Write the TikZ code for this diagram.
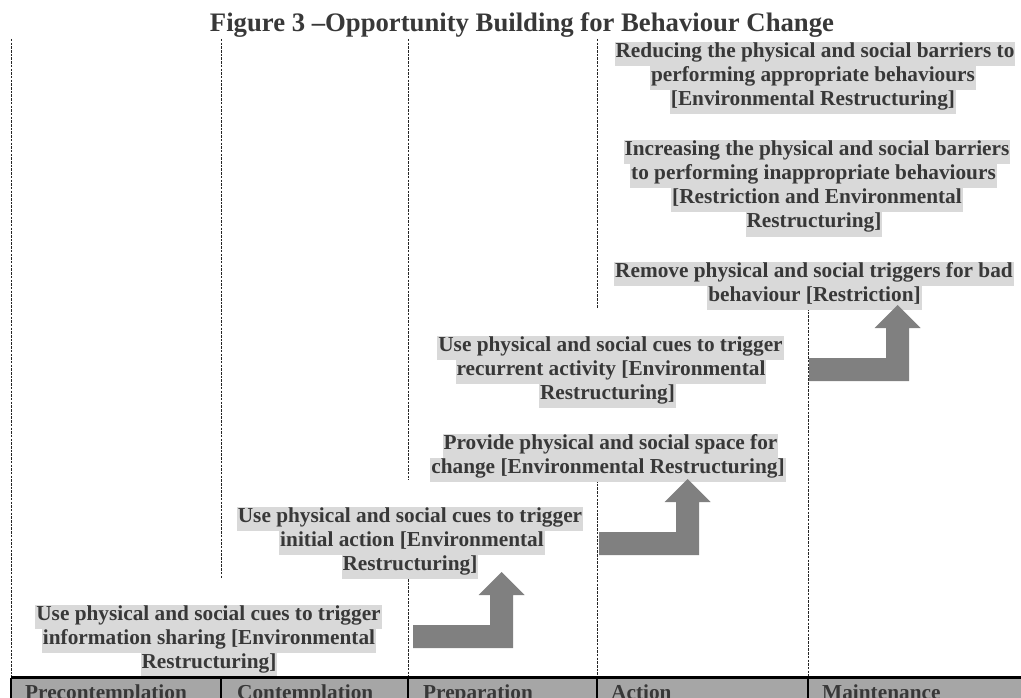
\documentclass[tikz,border=0pt]{standalone}
\usepackage{fontspec}
\setmainfont{Liberation Serif}
\definecolor{hl}{HTML}{D9D9D9}
\definecolor{txt}{HTML}{383838}
\definecolor{arr}{HTML}{808080}
\definecolor{tab}{HTML}{A6A6A6}
\newcommand{\bodyfnt}{\fontsize{21.3}{24}\selectfont\bfseries}
\newcommand{\titlefnt}{\fontsize{26.7}{30}\selectfont\bfseries}
\newcommand{\bentarrow}[2]{%
  \fill[arr] (#1,#2) -- ++(100,0) -- ++(0,-53) -- ++(11.5,0) -- ++(-23,-23)
    -- ++(-23,23) -- ++(11.5,0) -- ++(0,30) -- ++(-77,0) -- cycle;}
\tikzset{
  hlline/.style={fill=hl, text=txt, font=\bodyfnt, anchor=base,
    inner xsep=1pt, inner ysep=0pt, text height=15.5pt, text depth=8.5pt},
  dashline/.style={black!85, line width=0.9pt, dash pattern=on 2.5pt off 1.2pt},
  tabtext/.style={text=txt, font=\bodyfnt, anchor=base west, inner sep=0pt},
  divider/.style={black, line width=1.2pt}
}
\begin{document}
\begin{tikzpicture}[x=1pt,y=-1pt]
\useasboundingbox (0,0) rectangle (1021,698);
\clip (0,0) rectangle (1021,698);
% title
\node[text=txt, font=\titlefnt, anchor=base, inner sep=0pt] (title) at (522,32)
  {Figure 3 –Opportunity Building for Behaviour Change};
% dashed guide lines
\coordinate (v1t) at (11,39);  \coordinate (v1b) at (11,677);
\coordinate (v2t) at (221,39); \coordinate (v2b) at (221,578);
\coordinate (v3t) at (408,39); \coordinate (v3m) at (408,480);
\coordinate (v3n) at (408,579); \coordinate (v3b) at (408,677);
\coordinate (v4t) at (597,39); \coordinate (v4m) at (597,308);
\coordinate (v4n) at (597,480); \coordinate (v4b) at (597,677);
\coordinate (v5t) at (808,308); \coordinate (v5b) at (808,677);
\draw[dashline] (v1t) -- (v1b);
\draw[dashline] (v2t) -- (v2b);
\draw[dashline] (v3t) -- (v3m);
\draw[dashline] (v3n) -- (v3b);
\draw[dashline] (v4t) -- (v4m);
\draw[dashline] (v4n) -- (v4b);
\draw[dashline] (v5t) -- (v5b);
% block A
\node[hlline] (a1) at (815,58) {Reducing the physical and social barriers to};
\node[hlline] (a2) at (813,82) {performing appropriate behaviours};
\node[hlline] (a3) at (813,106) {[Environmental Restructuring]};
% block B
\node[hlline] (b1) at (817,156) {Increasing the physical and social barriers\ };
\node[hlline] (b2) at (813.5,180) {to performing inappropriate behaviours};
\node[hlline] (b3) at (817,204) {[Restriction and Environmental\ };
\node[hlline] (b4) at (814,228) {Restructuring]};
% block C
\node[hlline] (c1) at (814,277) {Remove physical and social triggers for bad};
\node[hlline] (c2) at (814.5,301) {behaviour [Restriction]};
% block D
\node[hlline] (d1) at (610.5,351) {Use physical and social cues to trigger};
\node[hlline] (d2) at (611,375) {recurrent activity [Environmental\ };
\node[hlline] (d3) at (607.5,399) {Restructuring]};
% block E
\node[hlline] (e1) at (610.5,449) {Provide physical and social space for};
\node[hlline] (e2) at (608,473) {change [Environmental Restructuring]};
% block F
\node[hlline] (f1) at (410,522) {Use physical and social cues to trigger};
\node[hlline] (f2) at (412,546) {initial action [Environmental\ };
\node[hlline] (f3) at (410,570) {Restructuring]};
% block G
\node[hlline] (g1) at (208.5,620) {Use physical and social cues to trigger};
\node[hlline] (g2) at (209,644) {information sharing [Environmental\ };
\node[hlline] (g3) at (209,668) {Restructuring]};
% bent arrows
\bentarrow{413}{648}
\bentarrow{599}{555}
\bentarrow{809}{381}
% stage table
\fill[tab] (11,678) rectangle (1021,698);
\draw[black, line width=3pt] (11,677.5) -- (1021,677.5);
\foreach \xx in {11,221,408,597,808} \draw[divider] (\xx,678) -- (\xx,698);
\node[tabtext] (s1) at (25,699) {Precontemplation};
\node[tabtext] (s2) at (237,699) {Contemplation};
\node[tabtext] (s3) at (423,699) {Preparation};
\node[tabtext] (s4) at (611,699) {Action};
\node[tabtext] (s5) at (822,699) {Maintenance};
\end{tikzpicture}
\end{document}
